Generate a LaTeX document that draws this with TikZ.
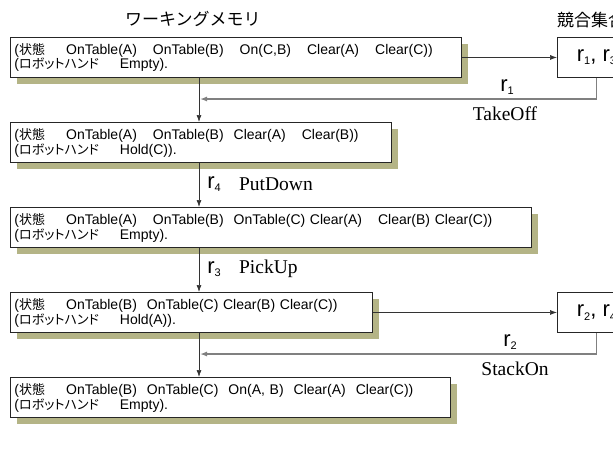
\documentclass[tikz,border=0pt]{standalone}
\usepackage{fontspec}
\setmainfont{Liberation Serif}
\newfontfamily\lsans{Liberation Sans}
\newfontfamily\jpfont{Noto Sans CJK JP}
\newfontfamily\jppfont[RawFeature=+palt]{Noto Sans CJK JP}
\usetikzlibrary{shadows,arrows.meta,positioning}
\definecolor{shadowcol}{RGB}{180,180,134}
\newcommand{\jp}[1]{{\jppfont\fontsize{13}{13}\selectfont #1}}
\newcommand{\gap}{\hspace{16pt}}
\newcommand{\mgap}{\hspace{10pt}}
\newcommand{\jgap}{\hspace{21pt}}
\newcommand{\rr}[1]{r\raisebox{-0.15em}{\fontsize{11}{11}\selectfont #1}}

\begin{document}
\begin{tikzpicture}[x=1pt,y=-1pt,
      wm/.style={draw=black!85,fill=white,line width=0.9pt,anchor=north west,
        inner xsep=4pt,inner ysep=0pt,minimum height=40pt,align=left,
        text height=10pt,text depth=16pt,
        font=\lsans\fontsize{14}{13}\selectfont,
        general shadow={fill=shadowcol,shadow xshift=7pt,shadow yshift=-7pt}},
      cs/.style={draw=black!85,fill=white,line width=0.9pt,anchor=north west,
        minimum width=78pt,minimum height=40pt,font=\lsans\fontsize{22}{24}\selectfont},
      title/.style={anchor=west,inner sep=0pt,font=\jpfont\fontsize{17}{19}\selectfont},
      flow/.style={-{Latex[length=7pt,width=5pt]},black!80,line width=0.7pt},
      back/.style={-{Latex[length=7pt,width=5pt]},black!50,line width=1.3pt},
      rule/.style={inner sep=0pt,font=\lsans\fontsize{22}{24}\selectfont},
      act/.style={inner sep=0pt,font=\fontsize{19.5}{21}\selectfont}]
    \useasboundingbox (0,0) rectangle (613,472);
    \clip (0,0) rectangle (613,472);

    % titles
    \node[title] (wmtitle) at (125,19) {ワーキングメモリ};
    \node[title] (cstitle) at (557,20) {競合集合};

    % working memory states
    \node[wm,text width=443pt] (wm1) at (10,37)
      {(\jp{状態}\jgap OnTable(A)\gap OnTable(B)\gap On(C,B)\gap Clear(A)\gap Clear(C))\\
       (\jp{ロボットハンド}\jgap Empty).};
    \node[wm,text width=373pt] (wm2) at (10,122)
      {(\jp{状態}\jgap OnTable(A)\gap OnTable(B)\mgap Clear(A)\gap Clear(B))\\
       (\jp{ロボットハンド}\jgap Hold(C)).};
    \node[wm,text width=513pt] (wm3) at (10,207)
      {(\jp{状態}\jgap OnTable(A)\gap OnTable(B)\mgap OnTable(C) Clear(A)\gap Clear(B) Clear(C))\\
       (\jp{ロボットハンド}\jgap Empty).};
    \node[wm,text width=354pt] (wm4) at (10,292)
      {(\jp{状態}\jgap OnTable(B)\mgap OnTable(C) Clear(B) Clear(C))\\
       (\jp{ロボットハンド}\jgap Hold(A)).};
    \node[wm,text width=432pt] (wm5) at (10,377)
      {(\jp{状態}\jgap OnTable(B)\mgap OnTable(C)\mgap On(A, B)\mgap Clear(A)\mgap Clear(C))\\
       (\jp{ロボットハンド}\jgap Empty).};

    % conflict sets
    \node[cs] (cs1) at (557,37) {\rr{1}, \rr{3}};
    \node[cs] (cs2) at (557,292) {\rr{2}, \rr{4}};

    % junctions on the main line
    \coordinate (j1) at (200,99);
    \coordinate (j2) at (200,354);

    % transitions
    \draw[flow] ([xshift=189pt]wm1.south west) -- ([xshift=189pt]wm2.north west);
    \draw[flow] ([xshift=189pt]wm2.south west) -- ([xshift=189pt]wm3.north west);
    \draw[flow] ([xshift=189pt]wm3.south west) -- ([xshift=189pt]wm4.north west);
    \draw[flow] ([xshift=189pt]wm4.south west) -- ([xshift=189pt]wm5.north west);
    \draw[flow] (wm1.east) -- (cs1.west);
    \draw[flow] (wm4.east) -- (cs2.west);
    \draw[back] (cs1.south) |- (j1);
    \draw[back] (cs2.south) |- (j2);

    % rule labels
    \node[rule] (lr1) at (507,87) {\rr{1}};
    \node[act] (lt1) at (505,114) {TakeOff};
    \node[rule] (lr4) at (214,184) {\rr{4}};
    \node[act,right=18pt of lr4] (lt4) {PutDown};
    \node[rule] (lr3) at (214,269) {\rr{3}};
    \node[act,right=18pt of lr3] (lt3) {PickUp};
    \node[rule] (lr2) at (510,342) {\rr{2}};
    \node[act] (lt2) at (515,369) {StackOn};
  \end{tikzpicture}
\end{document}
